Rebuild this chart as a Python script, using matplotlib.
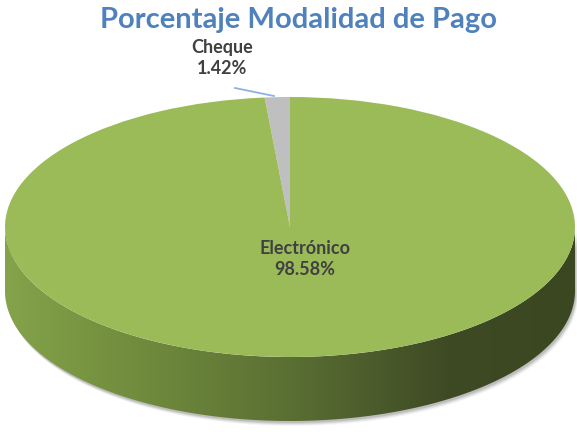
import numpy as np
import matplotlib
matplotlib.use("Agg")
import matplotlib.pyplot as plt
from matplotlib.transforms import Affine2D
from matplotlib.path import Path
from matplotlib.patches import PathPatch
from matplotlib.colors import LinearSegmentedColormap

categories = ["Cheque", "Electrónico"]
values = [1.42, 98.58]
pct_labels = ["1.42%", "98.58%"]
title = "Porcentaje Modalidad de Pago"

W, H = 577, 432
fig = plt.figure(figsize=(W / 100, H / 100), dpi=100)
ax = fig.add_axes([0, 0, 1, 1])

cx, cy = 290, H - 227      # centre of top face (data coords, y up)
a, b = 285, 130            # semi axes
depth = 64                 # thickness of the cylinder
top_color = "#9bbb59"
grey = "#bfbfbf"

# --- side band (gradient) ---
th = np.linspace(np.pi, 2 * np.pi, 200)
xs = cx + a * np.cos(th)
ys = cy + b * np.sin(th)
verts = np.concatenate([np.column_stack([xs, ys]),
                        np.column_stack([xs[::-1], ys[::-1] - depth])])
codes = [Path.MOVETO] + [Path.LINETO] * (len(verts) - 2) + [Path.CLOSEPOLY]
side_path = Path(verts, codes)

# soft shadow
for k, al in zip([5, 4, 3, 2], [0.04, 0.06, 0.08, 0.10]):
    sh = Path(verts + np.array([k * 0.6, -k]), codes)
    ax.add_patch(PathPatch(sh, fc="#000000", ec="none", alpha=al, zorder=1))

cmap = LinearSegmentedColormap.from_list(
    "side", [(0.0, "#84a34a"), (0.25, "#6f8a3c"), (0.5, "#5a6f33"),
             (0.78, "#3e4a24"), (1.0, "#3b4720")])
grad = np.linspace(0, 1, 256).reshape(1, -1)
im = ax.imshow(grad, cmap=cmap, extent=[cx - a, cx + a, cy - b - depth, cy],
               aspect="auto", zorder=2, origin="lower")
side_patch = PathPatch(side_path, fc="none", ec="none")
ax.add_patch(side_patch)
im.set_clip_path(side_patch)

# --- top face (pie) ---
wedges, _ = ax.pie(values, colors=[grey, top_color], startangle=90,
                   counterclock=True, center=(cx, cy), radius=a,
                   wedgeprops=dict(linewidth=0, edgecolor="none"))
squash = Affine2D().translate(-cx, -cy).scale(1, b / a).translate(cx, cy)
for w in wedges:
    w.set_transform(squash + ax.transData)
    w.set_zorder(3)

ax.set_aspect("auto")
ax.set_xlim(0, W)
ax.set_ylim(0, H)
ax.axis("off")

font = "Lato"
ax.text(W / 2 + 10, H - 20, title, ha="center", va="center", fontsize=21,
        fontweight="bold", color="#4f81bd", family=[font, "DejaVu Sans"], zorder=5)

ax.text(222, H - 58, categories[0] + "\n" + pct_labels[0], ha="center", va="center",
        fontsize=13, fontweight="bold", color="#404040", linespacing=1.35,
        family=[font, "DejaVu Sans"], zorder=5)
ax.plot([235, 274], [H - 88, H - 96], color="#8db3e2", lw=1.3, zorder=4)

ax.text(305, H - 259, categories[1] + "\n" + pct_labels[1], ha="center", va="center",
        fontsize=13, fontweight="bold", color="#404040", linespacing=1.35,
        family=[font, "DejaVu Sans"], zorder=5)

fig.savefig("out.png", dpi=100)
